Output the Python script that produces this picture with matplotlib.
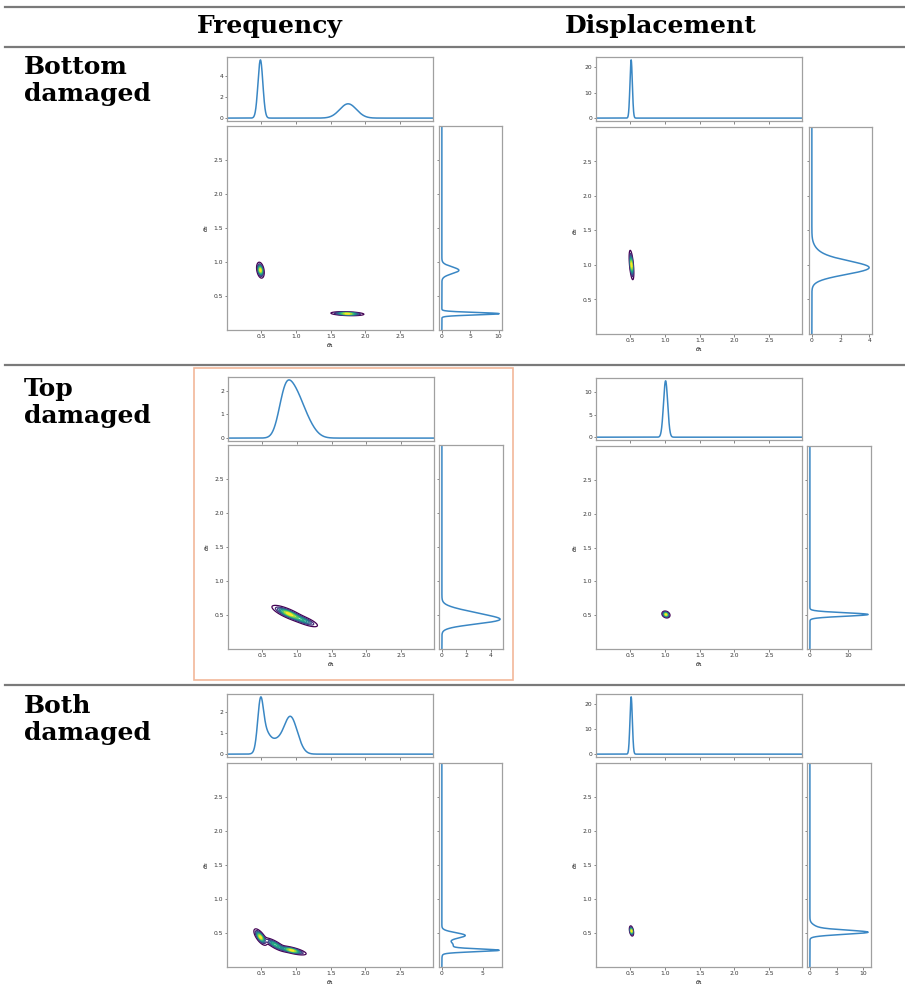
import numpy as np
import matplotlib.pyplot as plt
from matplotlib.lines import Line2D
from matplotlib.patches import Rectangle

W, H = 905, 997

col_titles = ["Frequency", "Displacement"]
row_titles = [("Bottom", "damaged"), ("Top", "damaged"), ("Both", "damaged")]

theta_ticks = [0.5, 1.0, 1.5, 2.0, 2.5]
theta_labels = ["0.5", "1.0", "1.5", "2.0", "2.5"]

# marginal peaks: (centre, width, height)
bot_freq_top = [(0.49, 0.035, 5.5), (1.75, 0.12, 1.35)]
bot_freq_right = [(0.878, 0.05, 3.0), (0.24, 0.018, 10.1)]
bot_disp_top = [(0.515, 0.017, 23.0)]
bot_disp_right = [(0.955, 0.095, 3.7), (1.10, 0.12, 0.6)]
top_freq_top = [(0.82, 0.09, 1.4), (0.95, 0.11, 1.4), (1.10, 0.13, 0.8)]
top_freq_right = [(0.42, 0.06, 3.8), (0.52, 0.07, 2.2)]
top_disp_top = [(1.01, 0.03, 12.6)]
top_disp_right = [(0.51, 0.026, 15.2)]
both_freq_top = [(0.49, 0.04, 2.0), (0.55, 0.07, 1.0), (0.70, 0.08, 0.5), (0.92, 0.10, 1.8)]
both_freq_right = [(0.245, 0.02, 6.4), (0.32, 0.06, 1.4), (0.465, 0.04, 2.8)]
both_disp_top = [(0.515, 0.017, 23.0)]
both_disp_right = [(0.51, 0.03, 10.0), (0.56, 0.05, 1.5)]

# posterior blobs: (theta1, theta2, sd along, sd across, angle deg, weight)
bot_freq_blobs = [(0.49, 0.88, 0.05, 0.022, 100, 1.0), (1.74, 0.24, 0.10, 0.012, -2, 1.0)]
bot_disp_blobs = [(0.52, 1.00, 0.09, 0.012, 95, 1.0)]
top_freq_blobs = [(0.88, 0.52, 0.11, 0.028, -24, 1.0), (1.10, 0.42, 0.10, 0.025, -22, 0.55)]
top_disp_blobs = [(1.015, 0.51, 0.026, 0.020, -30, 1.0)]
both_freq_blobs = [(0.49, 0.44, 0.06, 0.024, -55, 1.0), (0.70, 0.33, 0.08, 0.022, -30, 0.7),
                   (0.94, 0.245, 0.09, 0.019, -14, 1.0)]
both_disp_blobs = [(0.52, 0.53, 0.032, 0.012, 100, 1.0)]

top_yticks = [[0, 2, 4], [0, 10, 20], [0, 1, 2], [0, 5, 10], [0, 1, 2], [0, 10, 20]]
right_xticks = [[0, 5, 10], [0, 2, 4], [0, 2, 4], [0, 10], [0, 5], [0, 5, 10]]

panels = [
    (bot_freq_top, bot_freq_right, bot_freq_blobs),
    (bot_disp_top, bot_disp_right, bot_disp_blobs),
    (top_freq_top, top_freq_right, top_freq_blobs),
    (top_disp_top, top_disp_right, top_disp_blobs),
    (both_freq_top, both_freq_right, both_freq_blobs),
    (both_disp_top, both_disp_right, both_disp_blobs),
]

# pixel boxes: main (l, t, r, b), top marginal (t, b), right marginal (l, r)
boxes = [
    ((227, 126, 433, 330), (57, 121), (439, 502)),
    ((596, 127, 802, 334), (57, 121), (809, 872)),
    ((228, 445, 434, 649), (377, 441), (439, 503)),
    ((596, 446, 802, 649), (378, 440), (807, 871)),
    ((227, 763, 433, 967), (694, 757), (439, 502)),
    ((596, 763, 802, 967), (694, 757), (807, 871)),
]

XLIM = (0.01, 2.97)
YLIM = (0.0, 3.0)
LINE = "#3a87c4"
SPINE = "#a0a0a0"
TICKFS = 4.3


def px_axes(fig, l, t, r, b):
    return fig.add_axes([l / W, 1 - b / H, (r - l) / W, (b - t) / H])


def bumps(x, peaks):
    out = np.zeros_like(x)
    for c, s, h in peaks:
        out += h * np.exp(-0.5 * ((x - c) / s) ** 2)
    return out


def blob_density(X, Y, blobs):
    Z = np.zeros_like(X)
    for cx, cy, sa, sb, ang, w in blobs:
        a = np.deg2rad(ang)
        dx, dy = X - cx, Y - cy
        u = dx * np.cos(a) + dy * np.sin(a)
        v = -dx * np.sin(a) + dy * np.cos(a)
        Z += w * np.exp(-0.5 * ((u / sa) ** 2 + (v / sb) ** 2))
    return Z


def style(ax):
    for sp in ax.spines.values():
        sp.set_color(SPINE)
        sp.set_linewidth(0.9)
    ax.tick_params(labelsize=TICKFS, length=1.8, width=0.5, pad=1,
                   color="#555555", labelcolor="#333333")


fig = plt.figure(figsize=(W / 100, H / 100), dpi=100)

gx = np.linspace(0, 3, 1200)
GX, GY = np.meshgrid(gx, gx)
line_x = np.linspace(XLIM[0], XLIM[1], 2000)
line_y = np.linspace(YLIM[0], YLIM[1], 2000)

for i, ((tpk, rpk, blobs), (mbox, tbox, rbox)) in enumerate(zip(panels, boxes)):
    l, t, r, b = mbox
    ax = px_axes(fig, l, t, r, b)
    axt = px_axes(fig, l, tbox[0], r, tbox[1])
    axr = px_axes(fig, rbox[0], t, rbox[1], b)

    Z = blob_density(GX, GY, blobs)
    levels = np.linspace(0.06, 0.94, 9) * Z.max()
    ax.contour(GX, GY, Z, levels=levels, cmap="viridis", linewidths=0.9)
    ax.set_xlim(*XLIM)
    ax.set_ylim(*YLIM)
    ax.set_xticks(theta_ticks)
    ax.set_xticklabels(theta_labels)
    ax.set_yticks(theta_ticks)
    ax.set_yticklabels(theta_labels)
    ax.set_xlabel(r"$\theta_1$", fontsize=4.5, labelpad=1.5)
    ax.set_ylabel(r"$\theta_2$", fontsize=4.5, labelpad=1.5)
    style(ax)

    axt.plot(line_x, bumps(line_x, tpk), color=LINE, lw=1.1)
    axt.set_xlim(*XLIM)
    axt.set_xticks(theta_ticks)
    axt.set_xticklabels([])
    axt.set_yticks(top_yticks[i])
    style(axt)

    axr.plot(bumps(line_y, rpk), line_y, color=LINE, lw=1.1)
    axr.set_ylim(*YLIM)
    axr.set_yticks(theta_ticks)
    axr.set_yticklabels([])
    axr.set_xticks(right_xticks[i])
    style(axr)

# table rules
for y in [7, 47, 365, 685]:
    fig.add_artist(Line2D([5 / W, 1.0], [1 - y / H] * 2, color="#7a7a7a",
                          lw=1.6, transform=fig.transFigure))

# highlighted cell
fig.add_artist(Rectangle((194 / W, 1 - 680 / H), (513 - 194) / W, (680 - 368) / H,
                         fill=False, ec="#f2b79a", lw=1.2, transform=fig.transFigure))

title_font = dict(family="DejaVu Serif", weight="heavy", fontsize=18)
for name, cx in zip(col_titles, [270, 661]):
    fig.text(cx / W, 1 - 33 / H, name, ha="center", va="baseline", **title_font)

row_baselines = [(74, 101), (396, 423), (713, 740)]
for (w1, w2), (b1, b2) in zip(row_titles, row_baselines):
    fig.text(24 / W, 1 - b1 / H, w1, ha="left", va="baseline", **title_font)
    fig.text(24 / W, 1 - b2 / H, w2, ha="left", va="baseline", **title_font)

fig.savefig("out.png", dpi=100)
